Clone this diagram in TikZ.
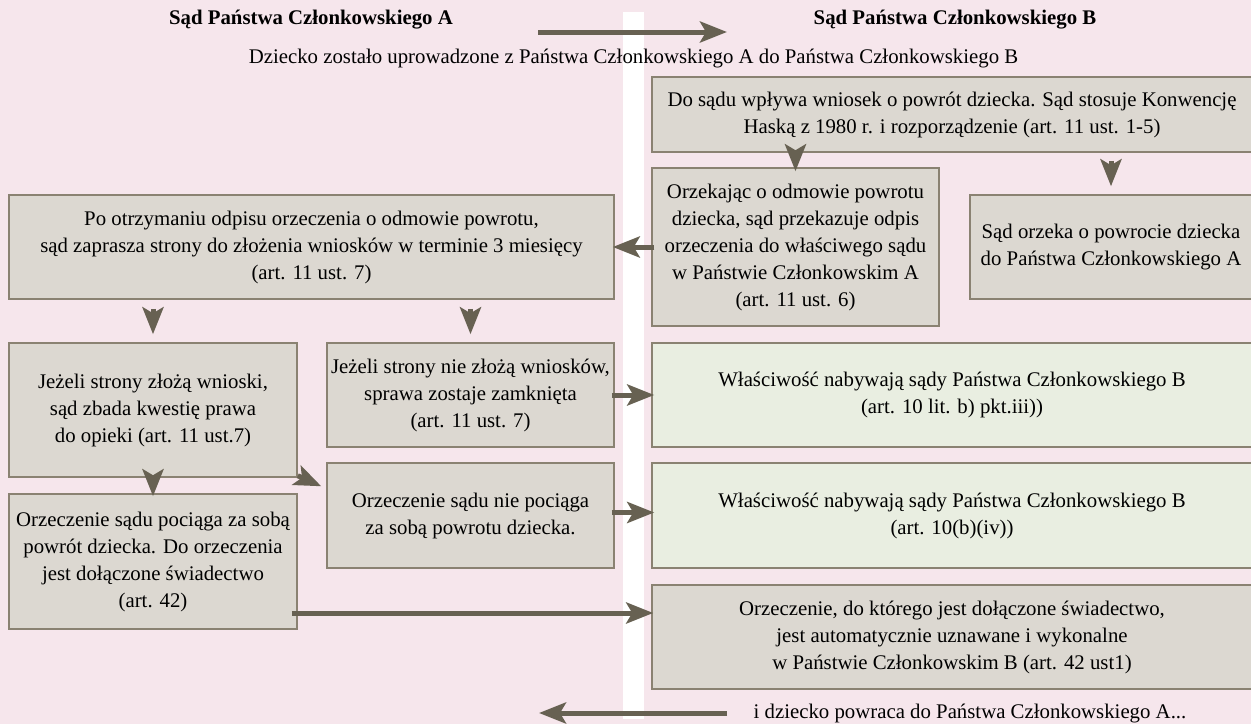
\documentclass[tikz,border=0pt]{standalone}
\usepackage{fontspec}
\setmainfont{Liberation Serif}
\usetikzlibrary{arrows.meta}
\definecolor{bgpink}{HTML}{F6E6EC}
\definecolor{boxgrey}{HTML}{DCD8D1}
\definecolor{boxgreen}{HTML}{E9EEE1}
\definecolor{edgec}{HTML}{8A8272}
\definecolor{arrowc}{HTML}{676152}
\tikzset{
  txt/.style={font=\fontsize{20.8}{27}\selectfont, inner sep=0pt, align=center},
  box/.style={txt, draw=edgec, line width=1.5pt, fill=boxgrey,
    execute at begin node={\rule{0pt}{21pt}}},
  gbox/.style={box, fill=boxgreen},
  conn/.style={draw=arrowc, line width=5pt, -{Stealth[length=27pt,width=21pt,inset=6pt]}},
}
\begin{document}
\begin{tikzpicture}[x=1pt,y=-1pt]
\useasboundingbox (0,0) rectangle (1251,724);
\fill[bgpink] (0,0) rectangle (1251,724);
\fill[white] (623,12) rectangle (644,719);

% titles
\node[txt, font=\fontsize{20.8}{27}\selectfont\bfseries] (tA) at (311,20) {Sąd Państwa Członkowskiego A};
\node[txt, font=\fontsize{20.8}{27}\selectfont\bfseries] (tB) at (955,20) {Sąd Państwa Członkowskiego B};
\node[txt] (sub) at (633.5,59) {Dziecko zostało uprowadzone z Państwa Członkowskiego A do Państwa Członkowskiego B};
\node[txt] (bot) at (970,714) {i dziecko powraca do Państwa Członkowskiego A...};

\coordinate (ta1) at (538,32);
\coordinate (ta2) at (727,32);
\coordinate (ba1) at (727,713);
\coordinate (ba2) at (539,713);

% boxes
\node[box, minimum width=600pt, minimum height=75pt] (b1) at (952,114.5)
  {Do sądu wpływa wniosek o powrót dziecka. Sąd stosuje Konwencję\\Haską z 1980 r. i rozporządzenie (art. 11 ust. 1-5)};
\node[box, minimum width=287pt, minimum height=158pt] (b2) at (795.5,247)
  {Orzekając o odmowie powrotu\\dziecka, sąd przekazuje odpis\\orzeczenia do właściwego sądu\\w Państwie Członkowskim A\\(art. 11 ust. 6)};
\node[box, minimum width=282pt, minimum height=104pt] (b3) at (1111,247)
  {Sąd orzeka o powrocie dziecka\\do Państwa Członkowskiego A};
\node[box, minimum width=605pt, minimum height=104pt] (b4) at (311.5,247)
  {Po otrzymaniu odpisu orzeczenia o odmowie powrotu,\\sąd zaprasza strony do złożenia wniosków w terminie 3 miesięcy\\(art. 11 ust. 7)};
\node[box, minimum width=288pt, minimum height=134pt] (b5) at (153,410)
  {Jeżeli strony złożą wnioski,\\sąd zbada kwestię prawa\\do opieki (art. 11 ust.7)};
\node[box, minimum width=287pt, minimum height=104pt] (b6) at (470.5,395)
  {Jeżeli strony nie złożą wniosków,\\sprawa zostaje zamknięta\\(art. 11 ust. 7)};
\node[gbox, minimum width=600pt, minimum height=104pt] (g1) at (952,395)
  {Właściwość nabywają sądy Państwa Członkowskiego B\\(art. 10 lit. b) pkt.iii))};
\node[box, minimum width=287pt, minimum height=105pt] (b7) at (470.5,515.5)
  {Orzeczenie sądu nie pociąga\\za sobą powrotu dziecka.};
\node[gbox, minimum width=600pt, minimum height=105pt] (g2) at (952,515.5)
  {Właściwość nabywają sądy Państwa Członkowskiego B\\(art. 10(b)(iv))};
\node[box, minimum width=288pt, minimum height=135pt] (b8) at (153,561.5)
  {Orzeczenie sądu pociąga za sobą\\powrót dziecka. Do orzeczenia\\jest dołączone świadectwo\\(art. 42)};
\node[box, minimum width=600pt, minimum height=104pt] (b9) at (952,637)
  {Orzeczenie, do którego jest dołączone świadectwo,\\jest automatycznie uznawane i wykonalne\\w Państwie Członkowskim B (art. 42 ust1)};

% connectors
\draw[conn] (ta1) -- (ta2);
\draw[conn] (ba1) -- (ba2);
\draw[conn, shorten <=-7pt, shorten >=-4pt] (b2.north |- b1.south) -- (b2.north);
\draw[conn, shorten <=8pt, shorten >=8pt] (b3.north |- b1.south) -- (b3.north);
\draw[conn, shorten <=-3pt, shorten >=-2pt] (b2.west) -- (b4.east);
\draw[conn, shorten <=9pt, shorten >=8pt] (b5.north |- b4.south) -- (b5.north);
\draw[conn, shorten <=9pt, shorten >=8pt] (b6.north |- b4.south) -- (b6.north);
\draw[conn, shorten <=-7pt, shorten >=-3pt] (b5.south) -- (b8.north);
\draw[conn] ([yshift=2pt]b5.south east) -- ([xshift=-5pt,yshift=-24pt]b7.north west);
\draw[conn, shorten <=-3pt, shorten >=-3pt] (b6.east) -- (g1.west);
\draw[conn, shorten <=-3pt, shorten >=-3pt] ([yshift=3pt]b7.east) -- ([yshift=3pt]g2.west);
\draw[conn, shorten <=-6pt, shorten >=-2pt] ([yshift=-51.5pt]b8.east) -- ([yshift=24pt]b9.west);
\end{tikzpicture}
\end{document}
